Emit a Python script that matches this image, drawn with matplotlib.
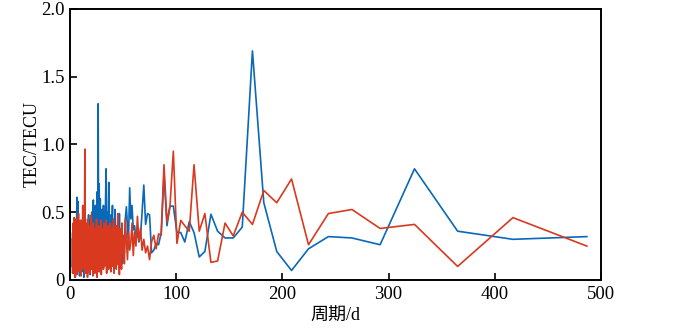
import numpy as np
import matplotlib
matplotlib.use('Agg')
import matplotlib.pyplot as plt
from matplotlib.ticker import FuncFormatter

plt.rcParams['font.family'] = ['Liberation Serif', 'Noto Sans CJK SC']

# Périodes (jours) de la partie espacée, k = 6 ... 58
periods_sparse = [486.7, 417.1, 365.0, 324.4, 292.0, 265.5, 243.3, 224.6, 208.6, 194.7,
                  182.5, 171.8, 162.2, 153.7, 146.0, 139.0, 132.7, 127.0, 121.7, 116.8,
                  112.3, 108.1, 104.3, 100.7, 97.3, 94.2, 91.3, 88.5, 85.9, 83.4,
                  81.1, 78.9, 76.8, 74.9, 73.0, 71.2, 69.5, 67.9, 66.4, 64.9,
                  63.5, 62.1, 60.8, 59.6, 58.4, 57.3, 56.2, 55.1, 54.1, 53.1,
                  52.1, 51.2, 50.3]

blue_sparse = [0.32, 0.30, 0.36, 0.82, 0.26, 0.31, 0.32, 0.23, 0.07, 0.21,
               0.57, 1.69, 0.39, 0.31, 0.31, 0.36, 0.485, 0.21, 0.17, 0.35,
               0.43, 0.28, 0.35, 0.35, 0.545, 0.545, 0.40, 0.78, 0.35, 0.26,
               0.27, 0.22, 0.20, 0.48, 0.49, 0.41, 0.70, 0.50, 0.32, 0.28,
               0.35, 0.30, 0.40, 0.37, 0.55, 0.45, 0.68, 0.30, 0.40, 0.54,
               0.45, 0.20, 0.30]

red_sparse = [0.25, 0.46, 0.10, 0.41, 0.38, 0.52, 0.49, 0.26, 0.745, 0.57,
              0.66, 0.41, 0.50, 0.325, 0.42, 0.14, 0.13, 0.49, 0.36, 0.85,
              0.36, 0.40, 0.44, 0.27, 0.95, 0.55, 0.43, 0.85, 0.33, 0.34,
              0.23, 0.33, 0.28, 0.15, 0.25, 0.20, 0.30, 0.22, 0.38, 0.29,
              0.47, 0.25, 0.35, 0.18, 0.42, 0.28, 0.22, 0.35, 0.15, 0.30,
              0.45, 0.12, 0.33]

# Partie dense (périodes courtes)
periods_dense = [2.0, 2.5, 3.0, 3.5, 4.0, 4.5, 5.0, 5.5, 6.0, 6.5,
                 7.0, 7.5, 8.0, 8.5, 9.0, 9.5, 10.0, 10.5, 11.0, 11.5,
                 12.0, 12.5, 13.0, 13.5, 14.0, 14.5, 15.0, 15.5, 16.0, 16.5,
                 17.0, 17.5, 18.0, 18.5, 19.0, 19.5, 20.0, 20.5, 21.0, 21.5,
                 22.0, 22.5, 23.0, 23.5, 24.0, 24.5, 25.0, 25.5, 26.0, 26.5,
                 27.0, 27.5, 28.0, 28.5, 29.0, 29.5, 30.0, 30.5, 31.0, 31.5,
                 32.0, 32.5, 33.0, 33.5, 34.0, 34.5, 35.0, 35.5, 36.0, 36.5,
                 37.0, 37.5, 38.0, 38.5, 39.0, 39.5, 40.0, 40.5, 41.0, 41.5,
                 42.0, 42.5, 43.0, 43.5, 44.0, 44.5, 45.0, 45.5, 46.0, 46.5,
                 47.0, 47.5, 48.0, 48.5, 49.0, 49.5]

blue_dense = [0.10, 0.35, 0.05, 0.40, 0.12, 0.45, 0.02, 0.38, 0.15, 0.61,
              0.08, 0.58, 0.20, 0.42, 0.03, 0.36, 0.10, 0.44, 0.06, 0.30,
              0.15, 0.40, 0.02, 0.35, 0.12, 0.45, 0.05, 0.38, 0.18, 0.42,
              0.08, 0.48, 0.12, 0.36, 0.04, 0.45, 0.15, 0.50, 0.10, 0.40,
              0.59, 0.20, 0.48, 0.08, 0.55, 0.25, 0.45, 0.65, 0.15, 1.30,
              0.30, 0.71, 0.12, 0.60, 0.25, 0.52, 0.08, 0.48, 0.20, 0.55,
              0.10, 0.45, 0.30, 0.60, 0.82, 0.18, 0.50, 0.10, 0.45, 0.72,
              0.25, 0.40, 0.10, 0.48, 0.20, 0.42, 0.55, 0.15, 0.38, 0.08,
              0.30, 0.52, 0.20, 0.40, 0.12, 0.35, 0.22, 0.30, 0.10, 0.49,
              0.25, 0.35, 0.17, 0.30, 0.12, 0.28]

red_dense = [0.30, 0.05, 0.42, 0.10, 0.46, 0.02, 0.38, 0.15, 0.45, 0.04,
             0.40, 0.12, 0.49, 0.06, 0.35, 0.18, 0.44, 0.03, 0.40, 0.10,
             0.55, 0.08, 0.38, 0.15, 0.965, 0.05, 0.42, 0.12, 0.36, 0.02,
             0.45, 0.10, 0.33, 0.05, 0.40, 0.15, 0.48, 0.08, 0.35, 0.03,
             0.42, 0.12, 0.30, 0.05, 0.38, 0.18, 0.45, 0.02, 0.36, 0.10,
             0.40, 0.06, 0.32, 0.15, 0.44, 0.04, 0.38, 0.12, 0.30, 0.08,
             0.42, 0.10, 0.36, 0.20, 0.44, 0.05, 0.34, 0.15, 0.40, 0.08,
             0.35, 0.12, 0.42, 0.06, 0.30, 0.18, 0.38, 0.10, 0.45, 0.05,
             0.32, 0.15, 0.40, 0.08, 0.36, 0.20, 0.49, 0.11, 0.30, 0.04,
             0.38, 0.12, 0.28, 0.08, 0.42, 0.20]

x_ticks = [0, 100, 200, 300, 400, 500]
y_ticks = [0, 0.5, 1.0, 1.5, 2.0]

# Assemblage et tri par période
x_all = np.array(periods_dense + periods_sparse[::-1])
blue_all = np.array(blue_dense + blue_sparse[::-1])
red_all = np.array(red_dense + red_sparse[::-1])

fig = plt.figure(figsize=(6.73, 3.29), dpi=100)
ax = fig.add_axes([0.104, 0.149, 0.789, 0.824])

ax.plot(x_all, blue_all, color='#0a68b8', linewidth=1.2)
ax.plot(x_all, red_all, color='#d8391f', linewidth=1.2)

ax.set_xlim(0, 500)
ax.set_ylim(0, 2.0)
ax.set_xticks(x_ticks)
ax.set_yticks(y_ticks)
ax.yaxis.set_major_formatter(FuncFormatter(lambda v, p: '0' if v == 0 else f'{v:.1f}'))
ax.tick_params(direction='in', length=5, width=1.2, labelsize=13.5,
               top=False, right=False, pad=4)
for s in ax.spines.values():
    s.set_linewidth(1.4)

ax.set_ylabel('TEC/TECU', fontsize=13, labelpad=0)
ax.set_xlabel('周期/d', fontsize=13, labelpad=4)

fig.savefig('out.png', dpi=100)
